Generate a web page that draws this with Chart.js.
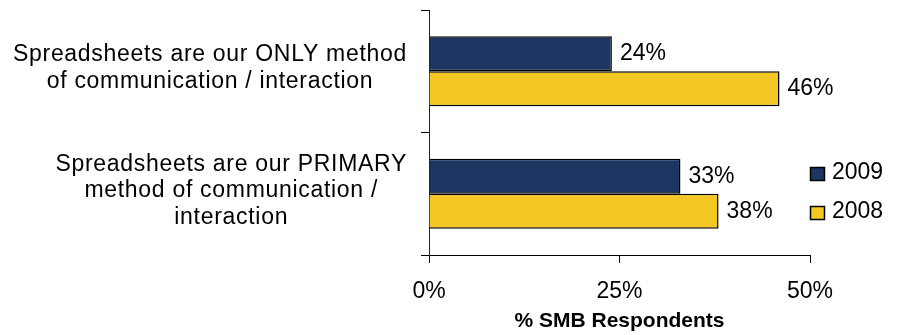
<!DOCTYPE html>
<html>
<head>
<meta charset="utf-8">
<script src="https://cdn.jsdelivr.net/npm/chart.js@4/dist/chart.umd.min.js"></script>
<style>
  html, body { margin: 0; padding: 0; background: #fff; }
</style>
</head>
<body>
<canvas id="chart" width="914" height="335"></canvas>
<script>
// データ
const categories = [
  ['Spreadsheets are our ONLY method', 'of communication / interaction'],
  ['Spreadsheets are our PRIMARY', 'method of communication /', 'interaction'],
];
const seriesNames = ['2009', '2008'];
const values2009 = [24, 33];
const values2008 = [46, 38];
const xTicks = [0, 25, 50];
const xTitle = '% SMB Respondents';

const NAVY = '#1c3561';
const GOLD = '#f5c724';
const FONT = "'Liberation Sans', Arial, sans-serif";

// カテゴリラベル（複数行・中央揃え、ブロックは右寄せ）
const categoryLabels = {
  id: 'categoryLabels',
  afterDraw(chart) {
    const { ctx, chartArea } = chart;
    const y = chart.scales.y;
    const lh = 26.5;
    ctx.save();
    ctx.font = `23px ${FONT}`;
    ctx.letterSpacing = '0.7px';
    ctx.fillStyle = '#000';
    ctx.textAlign = 'center';
    ctx.textBaseline = 'middle';
    chart.data.labels.forEach((lines, i) => {
      const w = Math.max(...lines.map(t => ctx.measureText(t).width));
      const cx = chartArea.left - 22 - w / 2;
      const cy = y.getPixelForValue(i) - 3;
      lines.forEach((t, k) => ctx.fillText(t, cx, cy + (k - (lines.length - 1) / 2) * lh));
    });
    ctx.restore();
  },
};

// 値ラベル
const valueLabels = {
  id: 'valueLabels',
  afterDatasetsDraw(chart) {
    const { ctx } = chart;
    ctx.save();
    ctx.font = `23px ${FONT}`;
    ctx.fillStyle = '#000';
    ctx.textAlign = 'left';
    ctx.textBaseline = 'middle';
    chart.data.datasets.forEach((ds, di) => {
      chart.getDatasetMeta(di).data.forEach((el, i) => {
        ctx.fillText(ds.data[i] + '%', el.x + 8, el.y);
      });
    });
    ctx.restore();
  },
};

// 凡例
const sideLegend = {
  id: 'sideLegend',
  afterDraw(chart) {
    const { ctx, chartArea } = chart;
    ctx.save();
    ctx.font = `23px ${FONT}`;
    ctx.textAlign = 'left';
    ctx.textBaseline = 'middle';
    chart.data.datasets.forEach((ds, i) => {
      const cy = chartArea.bottom - 81 + i * 39;
      const x = chartArea.right + 0.5;
      ctx.fillStyle = ds.backgroundColor;
      ctx.fillRect(x, cy - 6.5, 14, 13);
      ctx.strokeStyle = '#000';
      ctx.lineWidth = 1.5;
      ctx.strokeRect(x, cy - 6.5, 14, 13);
      ctx.fillStyle = '#000';
      ctx.fillText(ds.label, chartArea.right + 22, cy - 1);
    });
    ctx.restore();
  },
};

new Chart(document.getElementById('chart'), {
  type: 'bar',
  data: {
    labels: categories,
    datasets: [
      {
        label: seriesNames[0],
        data: values2009,
        backgroundColor: NAVY,
        borderColor: '#000',
        borderWidth: 1.5,
        categoryPercentage: 0.57,
        barPercentage: 1.0,
      },
      {
        label: seriesNames[1],
        data: values2008,
        backgroundColor: GOLD,
        borderColor: '#000',
        borderWidth: 1.5,
        categoryPercentage: 0.57,
        barPercentage: 1.0,
      },
    ],
  },
  options: {
    indexAxis: 'y',
    responsive: false,
    animation: false,
    devicePixelRatio: 1,
    layout: { padding: { left: 421, right: 104, top: 10, bottom: 0 } },
    scales: {
      x: {
        min: 0,
        max: 50,
        afterBuildTicks: s => { s.ticks = xTicks.map(v => ({ value: v })); },
        afterFit: s => { s.height = 80; },
        grid: { drawOnChartArea: false, drawTicks: true, tickLength: 8, color: '#000' },
        border: { color: '#000', width: 1 },
        ticks: {
          callback: v => v + '%',
          font: { family: FONT, size: 23 },
          color: '#000',
          padding: 15,
          maxRotation: 0,
        },
        title: {
          display: true,
          text: xTitle,
          font: { family: FONT, size: 21, weight: 'bold' },
          color: '#000',
          padding: { top: 0, bottom: 1 },
        },
      },
      y: {
        grid: { drawOnChartArea: false, drawTicks: true, tickLength: 8, color: '#000', offset: true },
        border: { color: '#222', width: 1 },
        ticks: { display: false },
      },
    },
    plugins: {
      legend: { display: false },
      tooltip: { enabled: false },
    },
  },
  plugins: [categoryLabels, valueLabels, sideLegend],
});
</script>
</body>
</html>
